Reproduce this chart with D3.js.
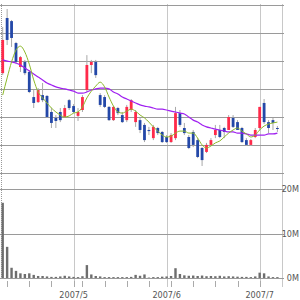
<!DOCTYPE html>
<html lang="en">
<head>
<meta charset="utf-8">
<title>Stock chart</title>
<style>
body { margin: 0; background: #fff; }
svg text { font-family: "Liberation Sans Narrow", "DejaVu Sans Condensed", sans-serif; font-size: 9px; fill: #555; }
</style>
</head>
<body>
<div id="chart"></div>
<script src="https://d3js.org/d3.v7.min.js"></script>
<script>
var dates = [
  "2007-04-06","2007-04-09","2007-04-10","2007-04-11","2007-04-12","2007-04-13",
  "2007-04-16","2007-04-17","2007-04-18","2007-04-19","2007-04-20",
  "2007-04-23","2007-04-24","2007-04-25","2007-04-26","2007-04-27",
  "2007-05-01","2007-05-02","2007-05-07","2007-05-08","2007-05-09","2007-05-10","2007-05-11",
  "2007-05-14","2007-05-15","2007-05-16","2007-05-17","2007-05-18",
  "2007-05-21","2007-05-22","2007-05-23","2007-05-24","2007-05-25",
  "2007-05-28","2007-05-29","2007-05-30","2007-05-31",
  "2007-06-01","2007-06-04","2007-06-05","2007-06-06","2007-06-07","2007-06-08",
  "2007-06-11","2007-06-12","2007-06-13","2007-06-14","2007-06-15",
  "2007-06-18","2007-06-19","2007-06-20","2007-06-21","2007-06-22",
  "2007-06-25","2007-06-26","2007-06-27","2007-06-28","2007-06-29",
  "2007-07-02","2007-07-03","2007-07-04","2007-07-05","2007-07-06"
];
var open  = [2756,2952,2941,2863,2778,2796,2760,2671,2653,2678,2675,2618,2597,2618,2600,2660,2639,2604,2625,2696,2785,2796,2678,2671,2636,2589,2632,2607,2589,2625,2582,2589,2572,2554,2525,2561,2547,2529,2511,2525,2614,2561,2529,2547,2518,2490,2476,2501,2536,2554,2561,2554,2597,2582,2561,2518,2501,2529,2561,2650,2582,2589,2561];
var high  = [2920,2984,2945,2867,2817,2803,2767,2696,2703,2721,2678,2632,2607,2632,2643,2664,2646,2632,2678,2820,2803,2803,2685,2678,2639,2639,2636,2618,2643,2664,2625,2597,2579,2565,2572,2565,2550,2536,2543,2636,2625,2579,2536,2554,2525,2493,2508,2525,2572,2572,2565,2607,2607,2589,2565,2525,2522,2561,2636,2664,2589,2597,2568];
var low   = [2749,2856,2849,2788,2760,2749,2685,2632,2650,2653,2597,2561,2561,2582,2597,2625,2614,2586,2618,2689,2756,2739,2636,2632,2586,2586,2607,2579,2582,2618,2565,2543,2511,2536,2518,2536,2508,2508,2508,2518,2565,2536,2486,2493,2454,2426,2472,2497,2525,2525,2525,2554,2561,2554,2508,2497,2497,2525,2554,2575,2543,2554,2547];
var close = [2874,2874,2881,2796,2813,2756,2689,2650,2696,2660,2600,2579,2586,2589,2632,2632,2618,2618,2671,2785,2796,2749,2643,2636,2589,2636,2614,2582,2636,2660,2618,2554,2518,2550,2565,2543,2511,2511,2536,2614,2572,2543,2490,2501,2458,2447,2501,2518,2554,2529,2547,2600,2565,2554,2511,2501,2518,2554,2636,2582,2561,2579,2559];
// short and long moving averages
var maShort = [2678,2739,2796,2838,2852,2831,2788,2732,2689,2668,2650,2632,2618,2607,2600,2604,2614,2618,2636,2668,2692,2710,2724,2707,2671,2639,2618,2614,2621,2628,2621,2607,2597,2582,2565,2550,2536,2529,2532,2543,2550,2550,2543,2543,2525,2501,2490,2497,2508,2515,2529,2543,2554,2561,2550,2540,2529,2536,2554,2568,2575,2579,2582];
var maLong  = [2803,2799,2796,2792,2785,2774,2764,2753,2742,2732,2721,2714,2707,2703,2700,2696,2692,2685,2685,2689,2696,2700,2703,2703,2700,2689,2682,2671,2664,2657,2650,2643,2639,2636,2632,2628,2628,2625,2621,2618,2614,2611,2600,2589,2582,2572,2565,2561,2557,2554,2550,2547,2547,2543,2543,2540,2536,2536,2536,2536,2540,2540,2543];
// volume in millions of shares
var volume = [16.9,7.0,2.3,1.6,1.05,0.9,1.05,0.7,0.45,0.45,0.35,0.25,0.25,0.35,0.5,0.35,0.25,0.2,0.4,2.9,0.8,0.45,0.35,0.2,0.2,0.2,0.2,0.2,0.2,0.25,0.7,0.5,0.8,0.1,0.2,0.2,0.3,0.35,0.45,2.2,0.9,0.6,0.5,0.55,0.45,0.55,0.4,0.45,0.4,0.5,0.35,0.4,0.35,0.3,0.25,0.25,0.2,0.35,1.2,1.05,0.35,0.2,0.2];
var priceTicks = [2400,2500,2600,2700,2800,2900,3000];
var volTicks = [0,10,20];
var volTickLabels = ["0M","10M","20M"];
var monthDates = ["2007-05-01","2007-06-01","2007-07-02"];
var monthLabels = ["2007/5","2007/6","2007/7"];

var W = 300, H = 300;
var left = 1, right = 282, gridEnd = 284;

var svg = d3.select('#chart').append('svg')
  .attr('width', W).attr('height', H);

var x = d3.scalePoint().domain(dates).range([2.7, 277.4]);
var y = d3.scaleLinear().domain([2400, 3000]).range([173.3, 4.5]);
var yv = d3.scaleLinear().domain([0, 20]).range([278, 189]);

// vertical month grid lines
svg.selectAll('.vgrid').data(monthDates).enter().append('line')
  .attr('x1', function(d) { return Math.round(x(d)) + 0.5; })
  .attr('x2', function(d) { return Math.round(x(d)) + 0.5; })
  .attr('y1', 4).attr('y2', 287)
  .style('stroke', '#c8c8c8');
svg.append('line')
  .attr('x1', right + 0.5).attr('x2', right + 0.5)
  .attr('y1', 4).attr('y2', 287)
  .style('stroke', '#c8c8c8');
svg.append('line')
  .attr('x1', left + 0.5).attr('x2', left + 0.5)
  .attr('y1', 4).attr('y2', 279)
  .style('stroke', '#999').style('stroke-dasharray', '1,1');

// horizontal price grid
svg.selectAll('.hgrid').data(priceTicks).enter().append('line')
  .attr('x1', 0).attr('x2', gridEnd)
  .attr('y1', function(d) { return Math.round(y(d)) + 0.5; })
  .attr('y2', function(d) { return Math.round(y(d)) + 0.5; })
  .style('stroke', '#9a9a9a');

// volume grid + labels
svg.selectAll('.vg').data(volTicks).enter().append('line')
  .attr('x1', 0).attr('x2', gridEnd)
  .attr('y1', function(d) { return Math.round(yv(d)) + 0.5; })
  .attr('y2', function(d) { return Math.round(yv(d)) + 0.5; })
  .style('stroke', '#9a9a9a');
svg.selectAll('.vl').data(volTicks).enter().append('text')
  .attr('x', 299)
  .attr('y', function(d) { return yv(d) + 3; })
  .attr('text-anchor', 'end')
  .text(function(d, i) { return volTickLabels[i]; });

// weekly ticks under the volume panel
var weekStarts = dates.filter(function(d, i) {
  if (i === 0) return false;
  var a = new Date(dates[i - 1]), b = new Date(d);
  return b.getDay() < a.getDay() || (b - a) > 4 * 864e5;
});
svg.selectAll('.wt').data(weekStarts).enter().append('line')
  .attr('x1', function(d) { return Math.round(x(d)) + 0.5; })
  .attr('x2', function(d) { return Math.round(x(d)) + 0.5; })
  .attr('y1', 281).attr('y2', 287)
  .style('stroke', '#aaa');

svg.selectAll('.ml').data(monthDates).enter().append('text')
  .attr('x', function(d) { return x(d); })
  .attr('y', 298)
  .attr('text-anchor', 'middle')
  .text(function(d, i) { return monthLabels[i]; });

// volume bars
svg.selectAll('.vol').data(dates).enter().append('rect')
  .attr('x', function(d) { return x(d) - 1.2; })
  .attr('width', 2.4)
  .attr('y', function(d, i) { return yv(volume[i]); })
  .attr('height', function(d, i) { return yv(0) - yv(volume[i]); })
  .style('fill', '#6e6e6e');

// candles
var g = svg.append('g');
g.selectAll('.wick').data(dates).enter().append('line')
  .attr('x1', function(d) { return x(d); })
  .attr('x2', function(d) { return x(d); })
  .attr('y1', function(d, i) { return y(high[i]); })
  .attr('y2', function(d, i) { return y(low[i]); })
  .style('stroke', '#a8a8a8');
g.selectAll('.body').data(dates).enter().append('rect')
  .attr('x', function(d) { return x(d) - 1.4; })
  .attr('width', 2.8)
  .attr('y', function(d, i) { return y(Math.max(open[i], close[i])); })
  .attr('height', function(d, i) { return Math.max(1, Math.abs(y(open[i]) - y(close[i]))); })
  .style('fill', function(d, i) { return close[i] >= open[i] ? '#ff2a4a' : '#2448a8'; });

// moving averages
var lineShort = d3.line().x(function(d, i) { return x(dates[i]); }).y(function(d) { return y(d); }).curve(d3.curveMonotoneX);
svg.append('path').datum(maLong).attr('d', lineShort)
  .style('fill', 'none').style('stroke', '#a020f0').style('stroke-width', 1.2);
svg.append('path').datum(maShort).attr('d', lineShort)
  .style('fill', 'none').style('stroke', '#8cb82a').style('stroke-width', 1);
</script>
</body>
</html>
